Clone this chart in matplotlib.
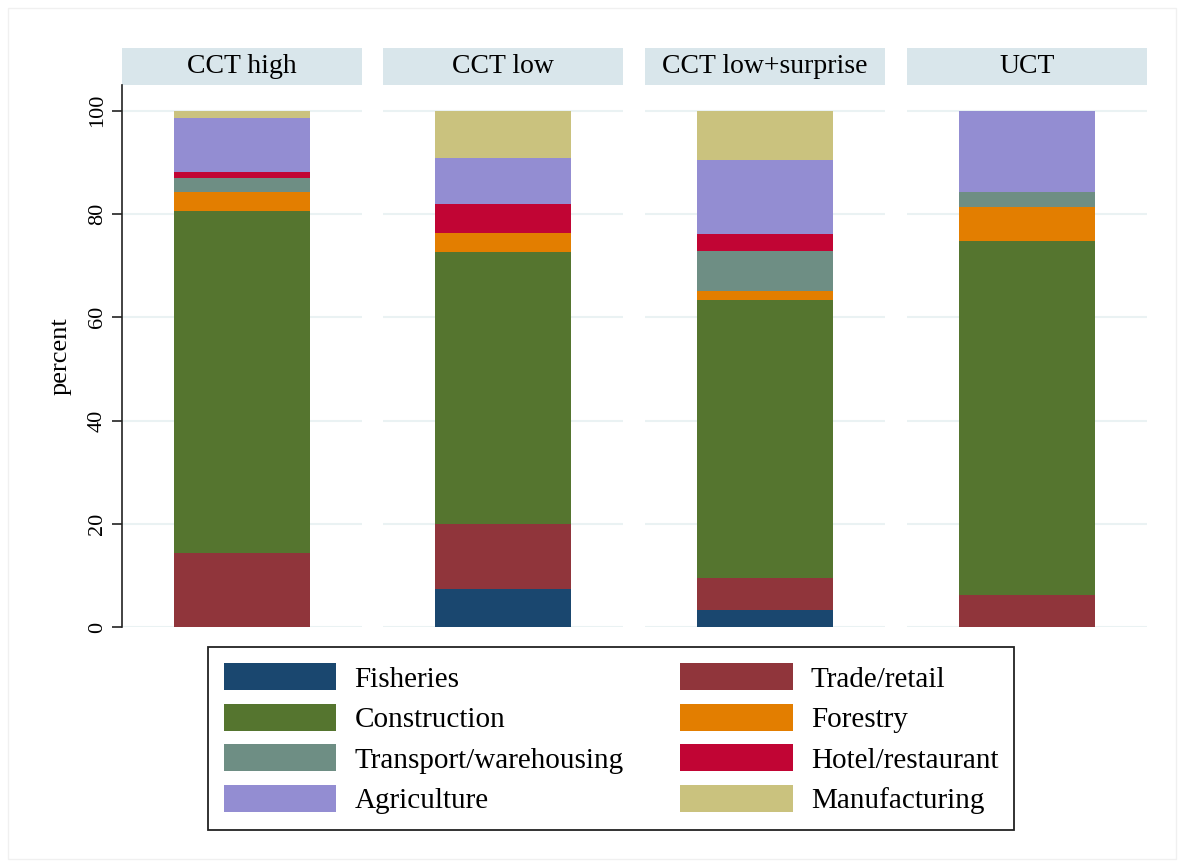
import matplotlib.pyplot as plt
from matplotlib.patches import Rectangle, Patch

plt.rcParams["font.family"] = ["Liberation Serif", "DejaVu Serif"]

groups = ["CCT high", "CCT low", "CCT low+surprise", "UCT"]
sectors = ["Fisheries", "Trade/retail", "Construction", "Forestry",
           "Transport/warehousing", "Hotel/restaurant", "Agriculture", "Manufacturing"]

# percent of respondents per sector, one list per group (stacked bottom -> top)
cct_high = [0.0, 14.3, 66.3, 3.7, 2.7, 1.2, 10.4, 1.4]
cct_low = [7.3, 12.7, 52.7, 3.7, 0.0, 5.5, 9.0, 9.1]
cct_low_surprise = [3.2, 6.2, 54.0, 1.6, 7.9, 3.2, 14.3, 9.6]
uct = [0.0, 6.2, 68.6, 6.5, 2.9, 0.0, 15.8, 0.0]
shares = [cct_high, cct_low, cct_low_surprise, uct]

colors = ["#1a476f", "#90353b", "#55752f", "#e37e00",
          "#6e8e84", "#c10534", "#938dd2", "#cac27e"]

W, H = 1184, 867
fig = plt.figure(figsize=(W / 100, H / 100), dpi=100)
fig.patches.append(Rectangle((8 / W, 8 / H), 1 - 16 / W, 1 - 16 / H, transform=fig.transFigure,
                             fill=False, edgecolor="#f0f0f0", linewidth=1))

lefts = [122, 383, 645, 907]
pw = 240
bottom_px, top_px = 627, 85
strip_h = 37

for i, (name, vals) in enumerate(zip(groups, shares)):
    ax = fig.add_axes([lefts[i] / W, 1 - bottom_px / H, pw / W, (bottom_px - top_px) / H])
    ax.set_xlim(0, 1)
    ax.set_ylim(0, 105)
    for y in range(0, 101, 20):
        ax.axhline(y, color="#eaf2f3", linewidth=1.5, zorder=0)
    base = 0
    for v, c in zip(vals, colors):
        ax.bar(0.5, v, width=0.57, bottom=base, color=c, linewidth=0, zorder=2)
        base += v
    for s in ax.spines.values():
        s.set_visible(False)
    ax.set_xticks([])
    if i == 0:
        ax.spines["left"].set_visible(True)
        ax.spines["left"].set_color("#222222")
        ax.spines["left"].set_linewidth(1.2)
        ax.set_yticks(range(0, 101, 20))
        ax.tick_params(axis="y", length=7, width=1.2, color="#222222", labelsize=16, pad=4)
        for t in ax.get_yticklabels():
            t.set_rotation(90)
            t.set_va("center")
        ax.set_ylabel("percent", fontsize=19, labelpad=12)
    else:
        ax.set_yticks([])
    # strip header over each panel
    sh = strip_h / (bottom_px - top_px)
    ax.add_patch(Rectangle((0, 1.0), 1, sh, transform=ax.transAxes, clip_on=False,
                           facecolor="#d9e6eb", edgecolor="none"))
    ax.text(0.5, 1 + sh / 2, name, transform=ax.transAxes, ha="center", va="center", fontsize=20)

handles = [Patch(facecolor=c, edgecolor="none") for c in colors]
order = [0, 2, 4, 6, 1, 3, 5, 7]
leg = fig.legend([handles[k] for k in order], [sectors[k] for k in order],
                 ncol=2, loc="upper left", bbox_to_anchor=(208 / W, 1 - 647 / H),
                 fontsize=21, handlelength=3.85, handleheight=1.05, labelspacing=0.38,
                 columnspacing=1.95, handletextpad=0.62, borderpad=0.55, borderaxespad=0,
                 fancybox=False, framealpha=1, edgecolor="#222222")
leg.get_frame().set_linewidth(1.3)

fig.savefig("out.png", dpi=100)
